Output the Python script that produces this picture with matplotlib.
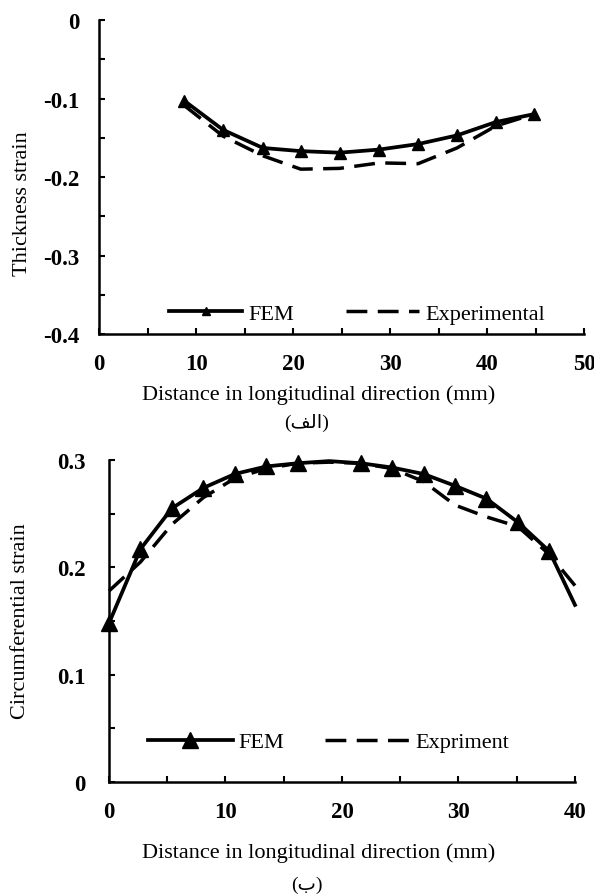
"""Thickness and circumferential strain vs. longitudinal distance (FEM vs. test)."""

import matplotlib

matplotlib.use("Agg")
import matplotlib.pyplot as plt
from matplotlib.ticker import MultipleLocator

plt.rcParams["font.family"] = ["Liberation Serif", "DejaVu Sans"]

# ---------------------------------------------------------------------------
# Data
# ---------------------------------------------------------------------------

# panel (a): thickness strain
thick_x = [8.8, 12.8, 16.9, 20.8, 24.8, 28.9, 32.9, 36.9, 40.9, 44.8]
thick_fem = [-0.103, -0.140, -0.163, -0.167, -0.169, -0.165, -0.158, -0.147, -0.130, -0.120]
thick_exp = [-0.109, -0.148, -0.173, -0.190, -0.189, -0.182, -0.183, -0.163, -0.135, -0.120]

# panel (b): circumferential strain
circ_x = [0, 2.7, 5.4, 8.1, 10.8, 13.5, 16.2, 18.9, 21.6, 24.3, 27.0, 29.7, 32.4, 35.1, 37.8, 40]
circ_fem = [0.148, 0.217, 0.255, 0.274, 0.287, 0.294, 0.297, 0.299, 0.297, 0.293,
            0.287, 0.276, 0.264, 0.242, 0.215, 0.165]
circ_exp = [0.178, 0.205, 0.240, 0.265, 0.283, 0.292, 0.297, 0.298, 0.297, 0.292,
            0.280, 0.258, 0.247, 0.238, 0.212, 0.183]
# FEM markers are not drawn at 18.9 mm nor at the 40 mm end point
circ_marked = [0, 1, 2, 3, 4, 5, 6, 8, 9, 10, 11, 12, 13, 14]

thick_yticks = [0, -0.1, -0.2, -0.3, -0.4]
circ_yticks = [0, 0.1, 0.2, 0.3]
thick_xticks = [0, 10, 20, 30, 40, 50]
circ_xticks = [0, 10, 20, 30, 40]

XLABEL = "Distance in longitudinal direction (mm)"
# Arabic captions in presentation forms so the letters join without shaping
CAPTION_A = "(\ufed2\ufedf\ufe8d)"  # (الف)
CAPTION_B = "(\ufe8f)"  # (ب)

# ---------------------------------------------------------------------------
# Plotting
# ---------------------------------------------------------------------------

FS = 16
TICK_FS = 16.5
DASH = (0, (6, 3))


def _style_axes(ax, xticks, yticks, ypad):
    for side in ("top", "right"):
        ax.spines[side].set_visible(False)
    for side in ("left", "bottom"):
        ax.spines[side].set_linewidth(1.8)
    ax.set_xticks(xticks)
    ax.set_xticklabels([f"{v:g}" for v in xticks])
    ax.set_yticks(yticks)
    ax.set_yticklabels([f"{v:g}" for v in yticks])
    ax.xaxis.set_minor_locator(MultipleLocator(5))
    ax.yaxis.set_minor_locator(MultipleLocator(0.05))
    ax.tick_params(which="both", direction="in", length=4, width=1.5)
    ax.tick_params(axis="x", labelsize=TICK_FS, pad=14)
    ax.tick_params(axis="y", labelsize=TICK_FS, pad=ypad)
    for lab in ax.get_xticklabels() + ax.get_yticklabels():
        lab.set_fontweight("bold")


fig = plt.figure(figsize=(5.94, 8.95), dpi=100)

# ---- Panel (a) ---------------------------------------------------------
ax1 = fig.add_axes([0.1667, 0.6257, 0.8165, 0.3508])
ax1.plot(thick_x, thick_fem, color="black", lw=2.7, marker="^", ms=9,
         label="FEM", clip_on=False, zorder=3)
ax1.plot(thick_x, thick_exp, color="black", lw=2.5, linestyle=DASH,
         label="Experimental", clip_on=False, zorder=2)
ax1.set_xlim(0, 50)
ax1.set_ylim(-0.4, 0)
_style_axes(ax1, thick_xticks, thick_yticks, ypad=14)
ax1.set_xlabel(XLABEL, fontsize=FS)
ax1.xaxis.set_label_coords(0.452, -0.191)
ax1.xaxis.label.set_va("center")
ax1.set_ylabel("Thickness strain", fontsize=FS)
ax1.yaxis.set_label_coords(-0.157, 0.417)
ax1.yaxis.label.set_va("center")
ax1.legend(loc="center left", bbox_to_anchor=(0.144, 0.064), ncol=2,
           frameon=False, fontsize=FS, handlelength=3.3, handletextpad=0.3,
           columnspacing=2.3, borderpad=0, borderaxespad=0, markerscale=0.6)

# ---- Panel (b) ---------------------------------------------------------
ax2 = fig.add_axes([0.1835, 0.1251, 0.7845, 0.3598])
ax2.plot(circ_x, circ_fem, color="black", lw=2.7, marker="^", ms=12,
         markevery=circ_marked, label="FEM", clip_on=False, zorder=3)
ax2.plot(circ_x, circ_exp, color="black", lw=2.5, linestyle=DASH,
         label="Expriment", clip_on=False, zorder=2)
ax2.set_xlim(0, 40)
ax2.set_ylim(0, 0.3)
_style_axes(ax2, circ_xticks, circ_yticks, ypad=17)
ax2.set_xlabel(XLABEL, fontsize=FS)
ax2.xaxis.set_label_coords(0.449, -0.217)
ax2.xaxis.label.set_va("center")
ax2.set_ylabel("Circumferential strain", fontsize=FS)
ax2.yaxis.set_label_coords(-0.19, 0.503)
ax2.yaxis.label.set_va("center")
ax2.legend(loc="center left", bbox_to_anchor=(0.084, 0.124), ncol=2,
           frameon=False, fontsize=FS, handlelength=3.8, handletextpad=0.28,
           columnspacing=1.8, borderpad=0, borderaxespad=0, markerscale=1.0)

# captions under each panel
fig.text(307 / 594, 1 - 423 / 895, CAPTION_A, fontsize=14, ha="center", va="center")
fig.text(307 / 594, 1 - 885 / 895, CAPTION_B, fontsize=14, ha="center", va="center")

fig.savefig("out.png", dpi=100)
plt.close(fig)
